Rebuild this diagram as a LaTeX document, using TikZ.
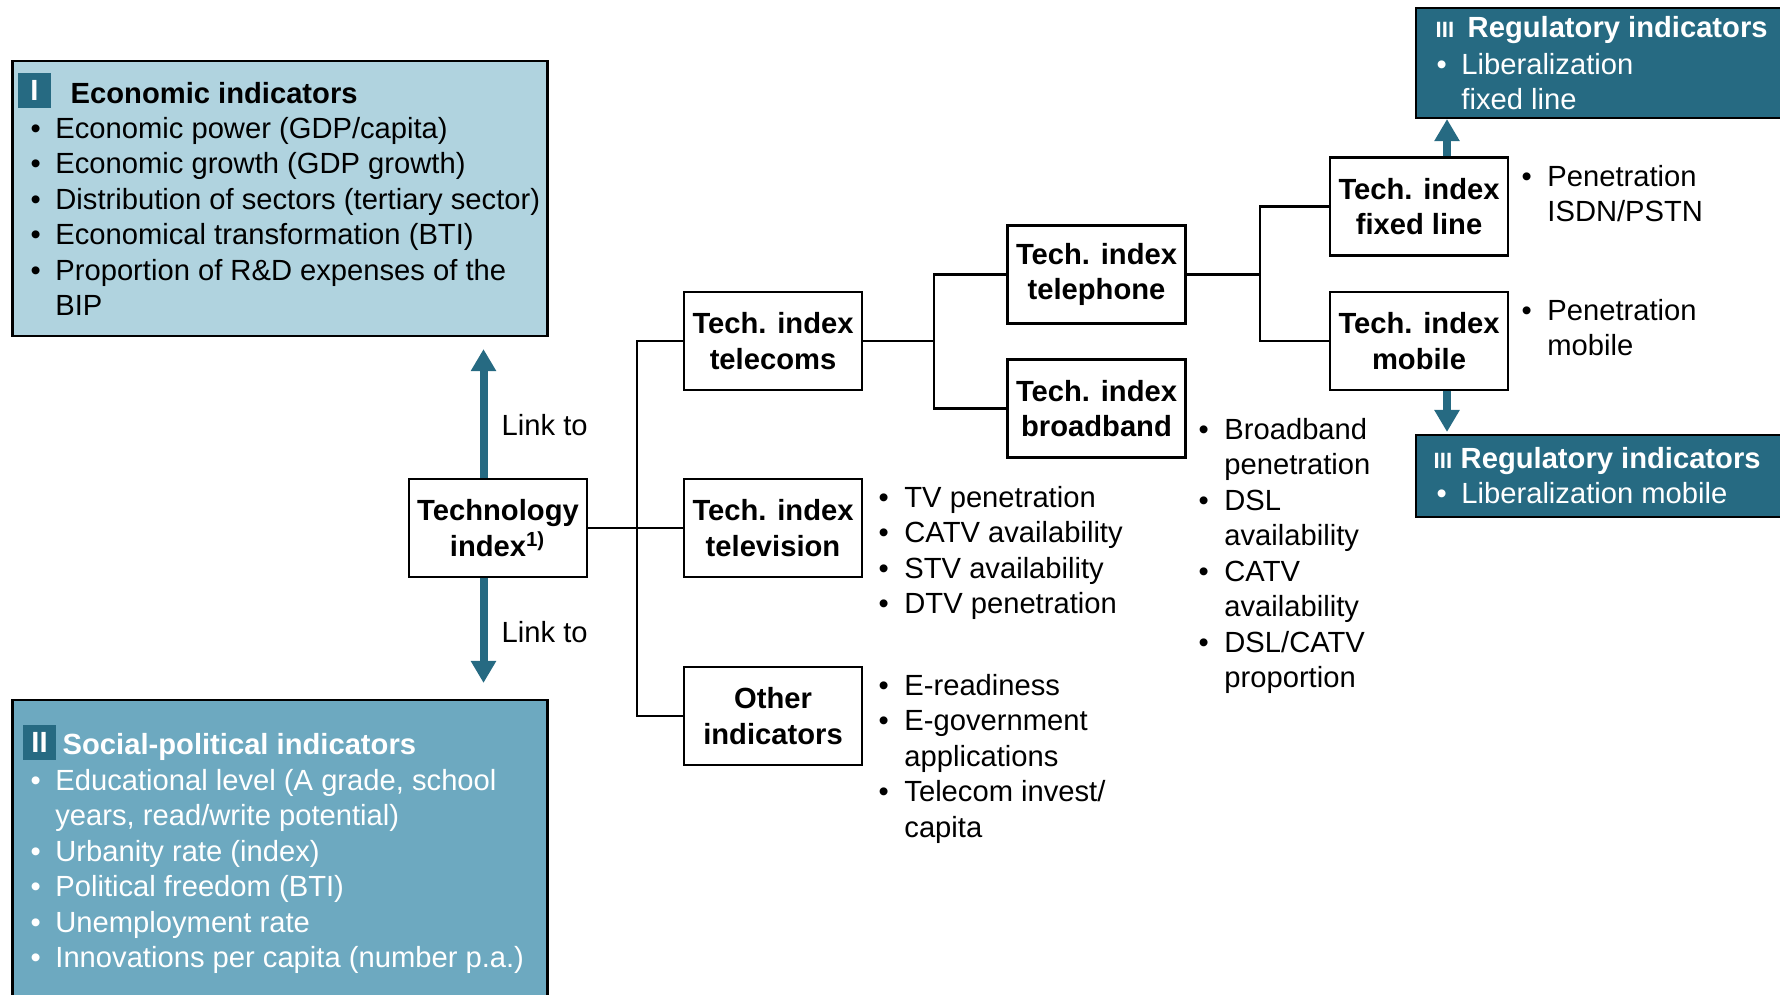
\documentclass[tikz,border=0pt]{standalone}
\usepackage{fontspec}
\setmainfont{Liberation Sans}
\usepackage{tikz}
\usetikzlibrary{arrows.meta}

\definecolor{tealdark}{HTML}{266A82}
\definecolor{econfill}{HTML}{B0D3DF}
\definecolor{socfill}{HTML}{6DA9C0}

\begin{document}
\begin{tikzpicture}[x=0.1mm, y=-0.1mm, every node/.style={font=\fontsize{8.3}{10.1}\selectfont, inner sep=0pt},
		techbox/.style={draw, line width=0.6pt, fill=white, minimum width=17.8mm, minimum height=9.8mm, align=center, font=\fontsize{8.3}{10.1}\selectfont\bfseries},
		panel/.style={draw, line width=0.6pt},
		badge/.style={fill=tealdark, text=white, minimum width=3.3mm, minimum height=3.5mm, font=\fontsize{8.3}{10.1}\selectfont\bfseries},
		itemlist/.style={anchor=base west},
		heading/.style={anchor=base west, font=\fontsize{8.3}{10.1}\selectfont\bfseries},
		link/.style={tealdark, line width=0.8mm, -{Triangle[width=2.4mm, length=2.2mm]}},
		branch/.style={line width=0.6pt}]
				\path[use as bounding box] (0,0) rectangle (1780,994);
				\clip (0,0) rectangle (1780,994);
				
				% 经济指标
				\node[panel, fill=econfill, minimum width=53.5mm, minimum height=27.5mm] (econ) at (280,198.5) {};
				\node[badge] (econbadge) at (34.5,90.5) {I};
				\node[heading] (econtitle) at (70,103) {Economic indicators};
				\node[itemlist] (econlist) at (30,138) {\begin{tabular}[t]{@{}l@{\hspace{1.45mm}}l@{}}
						\textbullet & Economic power (GDP/capita)\\
						\textbullet & Economic growth (GDP growth)\\
						\textbullet & Distribution of sectors (tertiary sector)\\
						\textbullet & Economical transformation (BTI)\\
						\textbullet & Proportion of R\&D expenses of the\\
						& BIP
					\end{tabular}};
				
				% 社会政治指标
				\node[panel, fill=socfill, minimum width=53.5mm, minimum height=31mm] (social) at (280,855) {};
				\node[badge] (socbadge) at (39.5,742.5) {II};
				\node[heading, text=white] (soctitle) at (62,754) {Social-political indicators};
				\node[itemlist, text=white] (soclist) at (30,790) {\begin{tabular}[t]{@{}l@{\hspace{1.45mm}}l@{}}
						\textbullet & Educational level (A grade, school\\
						& years, read/write potential)\\
						\textbullet & Urbanity rate (index)\\
						\textbullet & Political freedom (BTI)\\
						\textbullet & Unemployment rate\\
						\textbullet & Innovations per capita (number p.a.)
					\end{tabular}};
				
				% 监管指标
				\node[panel, fill=tealdark, minimum width=38.4mm, minimum height=11mm] (regfixed) at (1608,63) {};
				\node[heading, text=white, font=\fontsize{6.3}{7}\selectfont\bfseries] (regfixednum) at (1435,37) {III};
				\node[heading, text=white] (regfixedtitle) at (1467,37) {Regulatory indicators};
				\node[itemlist, text=white] (regfixedlist) at (1436,74) {\begin{tabular}[t]{@{}l@{\hspace{1.45mm}}l@{}}
						\textbullet & Liberalization\\
						& fixed line
					\end{tabular}};
				
				\node[panel, fill=tealdark, minimum width=38.4mm, minimum height=8.2mm] (regmobile) at (1608,476) {};
				\node[heading, text=white, font=\fontsize{6.3}{7}\selectfont\bfseries] (regmobilenum) at (1433,468) {III};
				\node[heading, text=white] (regmobiletitle) at (1460,468) {Regulatory indicators};
				\node[itemlist, text=white] (regmobilelist) at (1436,503) {\begin{tabular}[t]{@{}l@{\hspace{1.45mm}}l@{}}
						\textbullet & Liberalization mobile
					\end{tabular}};
				
				% 指标树
				\node[techbox] (tech) at (498,528) {Technology\\index\textsuperscript{1)}};
				\node[techbox] (telecoms) at (773,341) {Tech. index\\telecoms};
				\node[techbox] (television) at (773,528) {Tech. index\\television};
				\node[techbox] (other) at (773,716) {Other\\indicators};
				\node[techbox] (telephone) at (1096.5,274.5) {Tech. index\\telephone};
				\node[techbox] (broadband) at (1096.5,408.5) {Tech. index\\broadband};
				\node[techbox] (fixed) at (1419,206.5) {Tech. index\\fixed line};
				\node[techbox] (mobile) at (1419,341) {Tech. index\\mobile};
				
				\draw[branch] (tech.east) -- ++(49,0) coordinate (j1);
				\draw[branch] (j1) |- (telecoms.west);
				\draw[branch] (j1) -- (television.west);
				\draw[branch] (j1) |- (other.west);
				\draw[branch] (telecoms.east) -- ++(71,0) coordinate (j2);
				\draw[branch] (j2) |- (telephone.west);
				\draw[branch] (j2) |- (broadband.west);
				\draw[branch] (telephone.east) -- ++(73,0) coordinate (j3);
				\draw[branch] (j3) |- (fixed.west);
				\draw[branch] (j3) |- (mobile.west);
				
				% 链接箭头
				\draw[link, shorten >=1.2mm] ([xshift=-1.45mm]tech.north) -- ([xshift=-1.45mm]tech.north |- econ.south);
				\draw[link, shorten >=1.6mm] ([xshift=-1.45mm]tech.south) -- ([xshift=-1.45mm]tech.south |- social.north);
				\node[anchor=west] (linkup) at (501,425) {Link to};
				\node[anchor=west] (linkdown) at (501,632) {Link to};
				\draw[link] ([xshift=2.8mm]fixed.north) -- ([xshift=2.8mm]fixed.north |- regfixed.south);
				\draw[link, shorten >=0.2mm] ([xshift=2.8mm]mobile.south) -- ([xshift=2.8mm]mobile.south |- regmobile.north);
				
				% 指标说明
				\node[itemlist] (tvlist) at (878,507) {\begin{tabular}[t]{@{}l@{\hspace{1.55mm}}l@{}}
						\textbullet & TV penetration\\
						\textbullet & CATV availability\\
						\textbullet & STV availability\\
						\textbullet & DTV penetration
					\end{tabular}};
				\node[itemlist] (otherlist) at (878,695) {\begin{tabular}[t]{@{}l@{\hspace{1.55mm}}l@{}}
						\textbullet & E-readiness\\
						\textbullet & E-government\\
						& applications\\
						\textbullet & Telecom invest/\\
						& capita
					\end{tabular}};
				\node[itemlist] (bblist) at (1198,439) {\begin{tabular}[t]{@{}l@{\hspace{1.55mm}}l@{}}
						\textbullet & Broadband\\
						& penetration\\
						\textbullet & DSL\\
						& availability\\
						\textbullet & CATV\\
						& availability\\
						\textbullet & DSL/CATV\\
						& proportion
					\end{tabular}};
				\node[itemlist] (fixedlist) at (1521,186) {\begin{tabular}[t]{@{}l@{\hspace{1.55mm}}l@{}}
						\textbullet & Penetration\\
						& ISDN/PSTN
					\end{tabular}};
				\node[itemlist] (mobilelist) at (1521,320) {\begin{tabular}[t]{@{}l@{\hspace{1.55mm}}l@{}}
						\textbullet & Penetration\\
						& mobile
					\end{tabular}};
			\end{tikzpicture}
\end{document}
